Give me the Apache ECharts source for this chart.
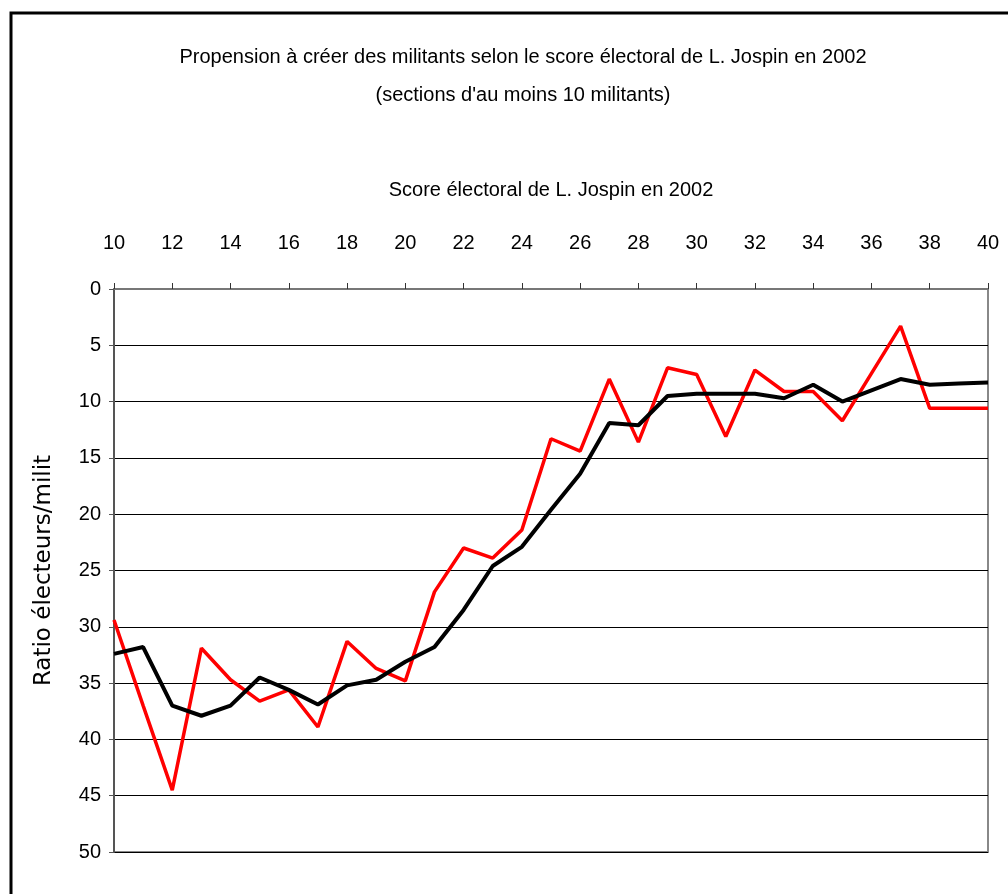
<!DOCTYPE html>
<html>
<head>
<meta charset="utf-8">
<script src="https://cdn.jsdelivr.net/npm/echarts@6/dist/echarts.min.js"></script>
<style>
  html, body { margin: 0; padding: 0; background: #fff; }
  #chart { width: 1008px; height: 894px; }
</style>
</head>
<body>
<div id="chart"></div>
<script>
// Score electoral (categories)
const scores = [
  '10', '11', '12', '13', '14', '15', '16', '17', '18', '19', '20',
  '21', '22', '23', '24', '25', '26', '27', '28', '29', '30',
  '31', '32', '33', '34', '35', '36', '37', '38', '39', '40',
];

// Ratio electeurs / militants, raw values (red)
const ratioRaw = [
  29.4, 37.0, 44.5, 31.9, 34.7, 36.6, 35.6, 38.9, 31.3, 33.7, 34.8,
  26.9, 23.0, 23.9, 21.4, 13.3, 14.4, 8.0, 13.6, 7.0, 7.6,
  13.1, 7.2, 9.1, 9.1, 11.7, 7.5, 3.3, 10.6, 10.6, 10.6,
];

// smoothed trend (black)
const ratioTrend = [
  32.4, 31.8, 37.0, 37.9, 37.0, 34.5, 35.6, 36.9, 35.2, 34.7, 33.1,
  31.8, 28.5, 24.6, 22.9, 19.6, 16.4, 11.9, 12.1, 9.5, 9.3,
  9.3, 9.3, 9.7, 8.5, 10.0, 9.0, 8.0, 8.5, 8.4, 8.3,
];

const font = '"Liberation Sans", Arial, sans-serif';

const chartDom = document.getElementById('chart');
const myChart = echarts.init(chartDom);

const option = {
  animation: false,
  backgroundColor: '#fff',
  textStyle: { fontFamily: font },
  title: {
    text: 'Propension à créer des militants selon le score électoral de L. Jospin en 2002\n(sections d\'au moins 10 militants)',
    left: 518,
    textAlign: 'center',
    top: 33,
    textStyle: {
      fontFamily: font,
      fontSize: 20,
      fontWeight: 'normal',
      color: '#000',
      lineHeight: 38,
    },
  },
  graphic: [
    {
      type: 'rect',
      shape: { x: 11, y: 13, width: 1010, height: 900 },
      style: { fill: null, stroke: '#000', lineWidth: 3 },
      silent: true,
    },
  ],
  grid: {
    left: 114,
    top: 289,
    right: 20,
    bottom: 42,
    show: true,
    borderColor: '#888',
    borderWidth: 2,
  },
  xAxis: {
    type: 'category',
    position: 'top',
    boundaryGap: false,
    data: scores,
    name: 'Score électoral de L. Jospin en 2002',
    nameLocation: 'middle',
    nameGap: 89,
    nameTextStyle: { fontFamily: font, fontSize: 20, color: '#000' },
    axisLine: { lineStyle: { color: '#777', width: 2 } },
    axisTick: { interval: 1, length: 6, lineStyle: { color: '#333', width: 1 } },
    axisLabel: {
      interval: 1,
      margin: 36,
      fontFamily: font,
      fontSize: 20,
      color: '#000',
    },
    splitLine: { show: false },
  },
  yAxis: {
    type: 'value',
    inverse: true,
    min: 0,
    max: 50,
    interval: 5,
    name: 'Ratio électeurs/milit',
    nameLocation: 'middle',
    nameGap: 58,
    nameTextStyle: {
      fontFamily: '"DejaVu Sans", sans-serif',
      fontSize: 23,
      color: '#000',
    },
    axisLine: { show: true, lineStyle: { color: '#555', width: 2 } },
    axisTick: { show: true, length: 5, lineStyle: { color: '#555' } },
    axisLabel: {
      margin: 13,
      fontFamily: font,
      fontSize: 20,
      color: '#000',
    },
    splitLine: { lineStyle: { color: '#000', width: 1 } },
  },
  series: [
    {
      name: 'Ratio',
      type: 'line',
      data: ratioRaw,
      symbol: 'none',
      lineStyle: { color: '#ff0000', width: 3.5 },
    },
    {
      name: 'Tendance',
      type: 'line',
      data: ratioTrend,
      symbol: 'none',
      lineStyle: { color: '#000', width: 4 },
    },
  ],
};

myChart.setOption(option);

window.addEventListener('resize', () => {
  myChart.resize();
});
</script>
</body>
</html>
